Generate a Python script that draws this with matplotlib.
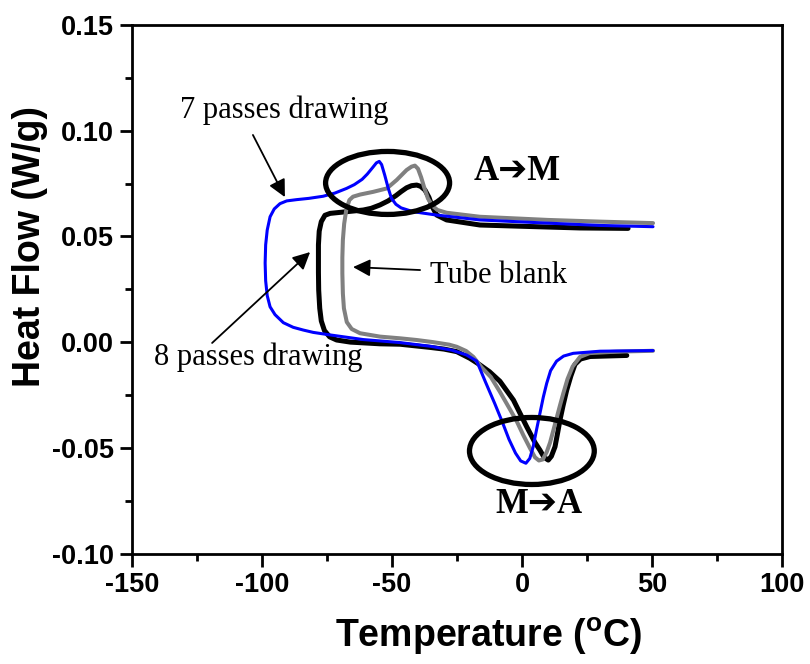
import matplotlib
matplotlib.use("Agg")
import matplotlib.pyplot as plt
from matplotlib.patches import Ellipse

# ---- data ----
blank_x = [50.4, 30, 10, -16.2, -29, -32.5, -34.5, -36.2, -37.7, -38.8, -40.0, -41.2, -42.5, -44.4,
           -48.2, -52.0, -57.2, -62.3, -65.0, -66.4, -67.6, -68.4, -68.9, -69.1, -69.1, -68.9,
           -68.5, -67.4, -65.5, -62.3, -54.6, -46.9, -40.5, -34.2, -28, -25.1, -21.5, -18.7,
           -15.5, -12, -8.5, -5, -2, 0.5, 3, 5, 6.5, 8, 9.5, 10.8, 12, 13.3, 14.6, 15.9, 17.5,
           19.5, 22.3, 26, 36.4, 50.4]
blank_y = [0.0563, 0.0570, 0.0578, 0.0593, 0.0612, 0.0625, 0.0645, 0.0680, 0.0735, 0.0780, 0.0820,
           0.0835, 0.0830, 0.0814, 0.0767, 0.0727, 0.0711, 0.0698, 0.0688, 0.0672, 0.0625, 0.0560,
           0.0483, 0.0400, 0.0325, 0.0230, 0.0160, 0.0095, 0.0062, 0.0042, 0.0026, 0.0018, 0.0010,
           0.0000, -0.0012, -0.0022, -0.0042, -0.0070, -0.0120, -0.0165, -0.0235, -0.0310, -0.0375,
           -0.0440, -0.0500, -0.0545, -0.0560, -0.0555, -0.0520, -0.0475, -0.0420, -0.0360, -0.0300,
           -0.0242, -0.0175, -0.0115, -0.0070, -0.0052, -0.0045, -0.0041]

p7_x = [50.4, 30, 9.5, -16.2, -32.8, -41.9, -46.5, -48.5, -50.2, -51.5, -52.8, -54.0, -54.9, -56.0,
        -57.5, -59.5, -61.5, -64.5, -67.5, -72, -76.5, -82, -86.7, -90.5, -93.1, -95.3, -96.9,
        -98.0, -98.6, -98.8, -98.6, -98.0, -96.9, -95.0, -91.8, -88, -84.1, -80.3, -73.8, -61.0,
        -47, -35, -27, -21.3, -17.4, -14, -10.5, -7.5, -5, -2.5, -0.5, 1.5, 3.0, 4.3, 5.5, 6.9,
        8.2, 9.5, 11, 13.3, 16, 19.7, 30, 50.4]
p7_y = [0.0546, 0.0552, 0.0563, 0.0578, 0.0601, 0.0617, 0.0635, 0.0652, 0.0680, 0.0730, 0.0790,
        0.0840, 0.0855, 0.0848, 0.0825, 0.0795, 0.0770, 0.0745, 0.0727, 0.0705, 0.0690, 0.0680,
        0.0674, 0.0668, 0.0655, 0.0630, 0.0593, 0.0530, 0.0460, 0.0374, 0.0290, 0.0220, 0.0167,
        0.0130, 0.0092, 0.0070, 0.0057, 0.0046, 0.0034, 0.0012, -0.0002, -0.0020, -0.0038,
        -0.0061, -0.0090, -0.0190, -0.0290, -0.0380, -0.0460, -0.0525, -0.0562, -0.0573, -0.0550,
        -0.0495, -0.0420, -0.0337, -0.0260, -0.0195, -0.0135, -0.0090, -0.0066, -0.0053, -0.0043,
        -0.0040]

p8_x = [40.8, 22.3, 0, -16.2, -29, -32.8, -34.5, -35.8, -37.3, -39, -40.5, -42.5, -44.4, -46.5,
        -48.5, -51.5, -54.6, -58, -61, -67.4, -73.8, -75.8, -77.2, -78.0, -78.3, -78.3, -78.2,
        -77.8, -77.2, -76.0, -74.0, -71.3, -66, -54.6, -46.9, -35.4, -30, -25.1, -20, -16.5,
        -12.5, -8.5, -3.3, 1.8, 5, 6.9, 8.5, 10.1, 11.3, 12.7, 13.7, 14.6, 15.8, 17.2, 18.8,
        20.4, 22.5, 26.2, 40.3]
p8_y = [0.0538, 0.0540, 0.0548, 0.0554, 0.0578, 0.0601, 0.0640, 0.0685, 0.0719, 0.0737, 0.0743,
        0.0740, 0.0730, 0.0712, 0.0693, 0.0668, 0.0649, 0.0633, 0.0625, 0.0617, 0.0609, 0.0600,
        0.0570, 0.0525, 0.0460, 0.0330, 0.0246, 0.0160, 0.0100, 0.0055, 0.0025, 0.0010, 0.0000,
        -0.0008, -0.0010, -0.0025, -0.0033, -0.0045, -0.0077, -0.0105, -0.0140, -0.0185, -0.0274,
        -0.0400, -0.0475, -0.0511, -0.0545, -0.0558, -0.0540, -0.0495, -0.0430, -0.0369, -0.0300,
        -0.0227, -0.0160, -0.0105, -0.0080, -0.0068, -0.0063]

x_ticks = [-150, -100, -50, 0, 50, 100]
x_ticklabels = ["-150", "-100", "-50", "0", "50", "100"]
y_ticks = [-0.10, -0.05, 0.00, 0.05, 0.10, 0.15]
y_ticklabels = ["-0.10", "-0.05", "0.00", "0.05", "0.10", "0.15"]

# ---- styling ----
plt.rcParams['axes.unicode_minus'] = False
plt.rcParams['mathtext.fontset'] = 'custom'
plt.rcParams['mathtext.rm'] = 'Liberation Sans:bold'
plt.rcParams['mathtext.it'] = 'Liberation Sans:bold'
plt.rcParams['mathtext.bf'] = 'Liberation Sans:bold'

fig = plt.figure(figsize=(8.1, 6.64), dpi=100)
ax = fig.add_axes([0.163, 0.1664, 0.8024, 0.7959])

ax.plot(p8_x, p8_y, color='black', lw=3.6, solid_joinstyle='round', solid_capstyle='round', zorder=2)
ax.plot(blank_x, blank_y, color='#808080', lw=2.9, solid_joinstyle='round', solid_capstyle='round', zorder=3)
ax.plot(p7_x, p7_y, color='#0000ff', lw=2.2, solid_joinstyle='round', solid_capstyle='round', zorder=4)

ax.set_xlim(-150, 100)
ax.set_ylim(-0.10, 0.15)
ax.set_xticks(x_ticks)
ax.set_xticklabels(x_ticklabels)
ax.set_xticks([-125, -75, -25, 25, 75], minor=True)
ax.set_yticks(y_ticks)
ax.set_yticklabels(y_ticklabels)
ax.set_yticks([-0.075, -0.025, 0.025, 0.075, 0.125], minor=True)

for sp in ax.spines.values():
    sp.set_linewidth(2)
ax.tick_params(which='major', direction='out', length=9, width=2, pad=4,
               labelsize=19.5, top=False, right=False)
ax.tick_params(which='minor', direction='out', length=5, width=2, top=False, right=False)
for lab in ax.get_xticklabels() + ax.get_yticklabels():
    lab.set_fontfamily('Liberation Sans')
    lab.set_fontweight('bold')

ax.set_xlabel(r'Temperature ($^{\mathrm{o}}$C)', fontsize=27, fontweight='bold',
              fontfamily='Liberation Sans')
ax.xaxis.set_label_coords(0.549, -0.118)
ax.set_ylabel('Heat Flow (W/g)', fontsize=27, fontweight='bold', fontfamily='Liberation Sans')
ax.yaxis.set_label_coords(-0.13, 0.58)

# ellipses
ax.add_patch(Ellipse((-51.7, 0.0753), 47.7, 0.0298, fill=False, lw=3.8, ec='black', zorder=6))
ax.add_patch(Ellipse((3.8, -0.0515), 48, 0.0317, fill=False, lw=3.8, ec='black', zorder=6))

serif = ['Liberation Serif', 'DejaVu Sans']
aprops = dict(arrowstyle='-|>', lw=1.3, color='black', mutation_scale=26, shrinkA=0, shrinkB=0)

ax.text(-91.3, 0.1098, '7 passes drawing', fontsize=22, family=serif, ha='center', va='center')
ax.annotate('', xy=(-91.2, 0.0686), xytext=(-103.5, 0.098), arrowprops=aprops, zorder=7)

ax.text(-101.3, -0.007, '8 passes drawing', fontsize=22, family=serif, ha='center', va='center')
ax.annotate('', xy=(-81.5, 0.0426), xytext=(-119.2, -0.0004), arrowprops=aprops, zorder=7)

ax.text(-9.2, 0.0317, 'Tube blank', fontsize=22, family=serif, ha='center', va='center')
ax.annotate('', xy=(-65, 0.0355), xytext=(-39.2, 0.0341), arrowprops=aprops, zorder=7)

ax.text(-1.9, 0.0805, 'A\u2794M', fontsize=25, fontweight='bold', family=serif, ha='center', va='center')
ax.text(6.7, -0.077, 'M\u2794A', fontsize=25, fontweight='bold', family=serif, ha='center', va='center')

fig.savefig('out.png', dpi=100)
